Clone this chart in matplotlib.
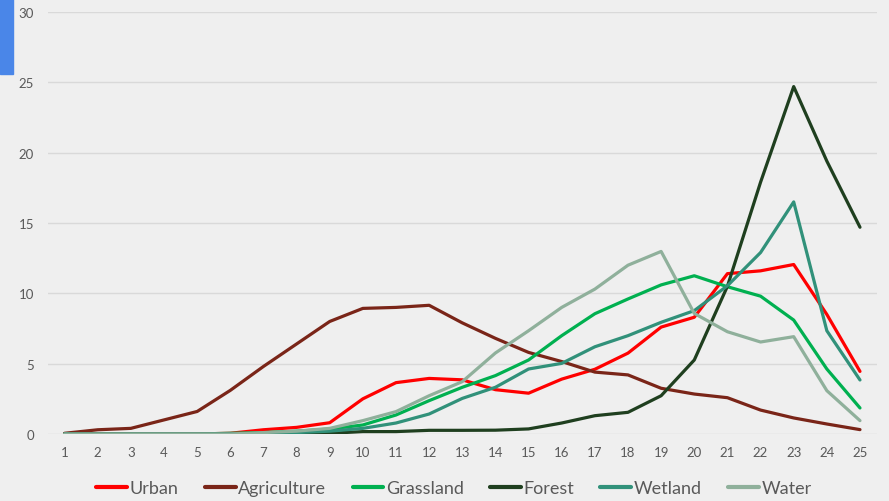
import matplotlib.pyplot as plt
from matplotlib.patches import Rectangle

plt.rcParams['font.family'] = ['Lato', 'DejaVu Sans']

x = list(range(1, 26))
urban = [0, 0, 0, 0, 0, 0.05, 0.3, 0.47, 0.8, 2.5, 3.65, 3.95, 3.85, 3.15, 2.9,
         3.9, 4.6, 5.75, 7.6, 8.3, 11.4, 11.6, 12.05, 8.5, 4.45]
agriculture = [0.05, 0.3, 0.4, 1.0, 1.6, 3.1, 4.8, 6.4, 8.0, 8.93, 9.0, 9.15, 7.9, 6.8, 5.8,
               5.15, 4.4, 4.2, 3.25, 2.84, 2.58, 1.7, 1.14, 0.71, 0.31]
grassland = [0, 0, 0, 0, 0, 0.05, 0.1, 0.2, 0.35, 0.64, 1.35, 2.37, 3.32, 4.15, 5.26,
             6.99, 8.55, 9.6, 10.6, 11.25, 10.47, 9.8, 8.1, 4.62, 1.85]
forest = [0, 0, 0, 0, 0, 0, 0, 0, 0.05, 0.17, 0.17, 0.26, 0.26, 0.27, 0.36,
          0.78, 1.3, 1.54, 2.72, 5.26, 10.5, 17.9, 24.7, 19.4, 14.7]
wetland = [0, 0, 0, 0, 0, 0, 0.05, 0.1, 0.2, 0.4, 0.78, 1.42, 2.53, 3.32, 4.62,
           5.02, 6.2, 6.99, 7.94, 8.77, 10.54, 12.9, 16.5, 7.34, 3.84]
water = [0, 0, 0, 0, 0, 0, 0.1, 0.2, 0.4, 0.95, 1.59, 2.72, 3.72, 5.76, 7.34,
         9.0, 10.3, 12.0, 12.98, 8.57, 7.27, 6.54, 6.92, 3.08, 0.95]

series = [("Urban", urban, "#FF0000"),
          ("Agriculture", agriculture, "#7A2518"),
          ("Grassland", grassland, "#00B050"),
          ("Forest", forest, "#1F3F1F"),
          ("Wetland", wetland, "#31917A"),
          ("Water", water, "#8FB09B")]

bg = "#EFEFEF"
fig = plt.figure(figsize=(8.89, 5.02), dpi=100, facecolor=bg)
ax = fig.add_axes([0.054, 0.1335, 0.932, 0.8405], facecolor=bg)

for name, vals, col in series:
    ax.plot(x, vals, color=col, lw=2.3, label=name, solid_capstyle="round")

ax.set_xlim(0.5, 25.5)
ax.set_ylim(0, 30)
ax.set_yticks(range(0, 31, 5))
ax.set_xticks(x)
ax.grid(axis="y", color="#D9D9D9", lw=1)
ax.set_axisbelow(True)
for s in ax.spines.values():
    s.set_visible(False)
ax.tick_params(length=0, labelsize=9.5, labelcolor="#595959")
ax.tick_params(axis="y", pad=10)
ax.tick_params(axis="x", pad=9)

leg = ax.legend(loc="center", bbox_to_anchor=(0.49, -0.128), ncol=6, frameon=False,
                fontsize=13, labelcolor="#595959", handlelength=1.7, handletextpad=0.15,
                columnspacing=1.45)
for h in leg.get_lines():
    h.set_linewidth(3)

fig.patches.append(Rectangle((0, 1 - 75 / 502), 13 / 889, 75 / 502,
                             transform=fig.transFigure, color="#4A86E8"))

fig.savefig("out.png", dpi=100, facecolor=bg)
